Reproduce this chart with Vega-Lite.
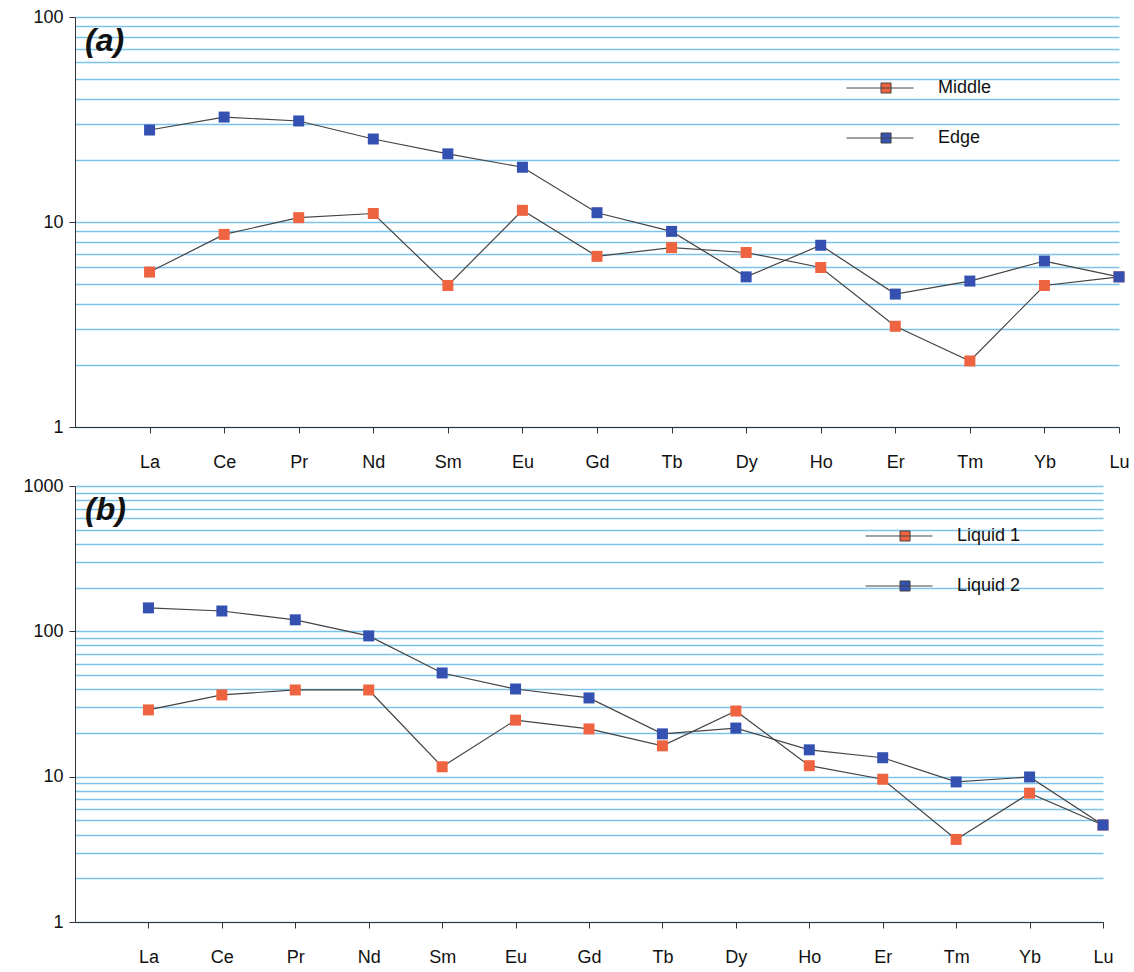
{
  "$schema": "https://vega.github.io/schema/vega-lite/v6.json",
  "background": "white",
  "padding": {"left": 22, "top": 8, "right": 2, "bottom": 5},
  "spacing": 6,
  "config": {
    "view": {"stroke": null},
    "font": "Liberation Sans",
    "axis": {"labelFont": "Liberation Sans", "labelFontSize": 18, "labelColor": "#111", "domainColor": "#333", "tickColor": "#333", "zindex": 1},
    "legend": {"labelFont": "Liberation Sans", "labelFontSize": 18, "labelColor": "#111"}
  },
  "data": {"values": [
    {"panel": "a", "series": "Middle", "element": "La", "value": 5.7},
    {"panel": "a", "series": "Middle", "element": "Ce", "value": 8.7},
    {"panel": "a", "series": "Middle", "element": "Pr", "value": 10.5},
    {"panel": "a", "series": "Middle", "element": "Nd", "value": 11.0},
    {"panel": "a", "series": "Middle", "element": "Sm", "value": 4.9},
    {"panel": "a", "series": "Middle", "element": "Eu", "value": 11.4},
    {"panel": "a", "series": "Middle", "element": "Gd", "value": 6.8},
    {"panel": "a", "series": "Middle", "element": "Tb", "value": 7.5},
    {"panel": "a", "series": "Middle", "element": "Dy", "value": 7.1},
    {"panel": "a", "series": "Middle", "element": "Ho", "value": 6.0},
    {"panel": "a", "series": "Middle", "element": "Er", "value": 3.1},
    {"panel": "a", "series": "Middle", "element": "Tm", "value": 2.1},
    {"panel": "a", "series": "Middle", "element": "Yb", "value": 4.9},
    {"panel": "a", "series": "Middle", "element": "Lu", "value": 5.4},
    {"panel": "a", "series": "Edge", "element": "La", "value": 28.1},
    {"panel": "a", "series": "Edge", "element": "Ce", "value": 32.5},
    {"panel": "a", "series": "Edge", "element": "Pr", "value": 31.1},
    {"panel": "a", "series": "Edge", "element": "Nd", "value": 25.4},
    {"panel": "a", "series": "Edge", "element": "Sm", "value": 21.5},
    {"panel": "a", "series": "Edge", "element": "Eu", "value": 18.5},
    {"panel": "a", "series": "Edge", "element": "Gd", "value": 11.1},
    {"panel": "a", "series": "Edge", "element": "Tb", "value": 9.0},
    {"panel": "a", "series": "Edge", "element": "Dy", "value": 5.4},
    {"panel": "a", "series": "Edge", "element": "Ho", "value": 7.7},
    {"panel": "a", "series": "Edge", "element": "Er", "value": 4.45},
    {"panel": "a", "series": "Edge", "element": "Tm", "value": 5.15},
    {"panel": "a", "series": "Edge", "element": "Yb", "value": 6.45},
    {"panel": "a", "series": "Edge", "element": "Lu", "value": 5.4},
    {"panel": "b", "series": "Liquid 1", "element": "La", "value": 28.8},
    {"panel": "b", "series": "Liquid 1", "element": "Ce", "value": 36.5},
    {"panel": "b", "series": "Liquid 1", "element": "Pr", "value": 39.5},
    {"panel": "b", "series": "Liquid 1", "element": "Nd", "value": 39.5},
    {"panel": "b", "series": "Liquid 1", "element": "Sm", "value": 11.7},
    {"panel": "b", "series": "Liquid 1", "element": "Eu", "value": 24.5},
    {"panel": "b", "series": "Liquid 1", "element": "Gd", "value": 21.3},
    {"panel": "b", "series": "Liquid 1", "element": "Tb", "value": 16.3},
    {"panel": "b", "series": "Liquid 1", "element": "Dy", "value": 28.3},
    {"panel": "b", "series": "Liquid 1", "element": "Ho", "value": 11.9},
    {"panel": "b", "series": "Liquid 1", "element": "Er", "value": 9.6},
    {"panel": "b", "series": "Liquid 1", "element": "Tm", "value": 3.7},
    {"panel": "b", "series": "Liquid 1", "element": "Yb", "value": 7.7},
    {"panel": "b", "series": "Liquid 1", "element": "Lu", "value": 4.65},
    {"panel": "b", "series": "Liquid 2", "element": "La", "value": 145},
    {"panel": "b", "series": "Liquid 2", "element": "Ce", "value": 138},
    {"panel": "b", "series": "Liquid 2", "element": "Pr", "value": 120},
    {"panel": "b", "series": "Liquid 2", "element": "Nd", "value": 93},
    {"panel": "b", "series": "Liquid 2", "element": "Sm", "value": 51.7},
    {"panel": "b", "series": "Liquid 2", "element": "Eu", "value": 40.1},
    {"panel": "b", "series": "Liquid 2", "element": "Gd", "value": 34.8},
    {"panel": "b", "series": "Liquid 2", "element": "Tb", "value": 19.7},
    {"panel": "b", "series": "Liquid 2", "element": "Dy", "value": 21.6},
    {"panel": "b", "series": "Liquid 2", "element": "Ho", "value": 15.3},
    {"panel": "b", "series": "Liquid 2", "element": "Er", "value": 13.5},
    {"panel": "b", "series": "Liquid 2", "element": "Tm", "value": 9.2},
    {"panel": "b", "series": "Liquid 2", "element": "Yb", "value": 9.95},
    {"panel": "b", "series": "Liquid 2", "element": "Lu", "value": 4.65}
  ]},
  "resolve": {"scale": {"color": "independent", "x": "independent", "y": "independent"}, "legend": {"color": "independent"}},
  "vconcat": [
    {
      "width": 1044,
      "height": 410,
      "title": {"text": "(a)", "anchor": "start", "frame": "group", "orient": "top", "offset": -50, "dx": 10, "fontSize": 32, "fontStyle": "italic", "fontWeight": "bold", "font": "Liberation Sans", "color": "#111"},
      "transform": [{"filter": "datum.panel === 'a'"}],
      "encoding": {
        "x": {"field": "element", "type": "ordinal", "scale": {"type": "point", "domain": ["", "La", "Ce", "Pr", "Nd", "Sm", "Eu", "Gd", "Tb", "Dy", "Ho", "Er", "Tm", "Yb", "Lu"], "padding": 0},
          "axis": {"title": null, "labelAngle": 0, "tickSize": 6, "labelPadding": 20, "grid": false, "tickOpacity": {"condition": {"test": "datum.value === ''", "value": 0}, "value": 1}}},
        "y": {"field": "value", "type": "quantitative", "scale": {"type": "log", "domain": [1, 100], "nice": false},
          "axis": {"title": null, "values": [1,2,3,4,5,6,7,8,9,10,20,30,40,50,60,70,80,90,100], "labelExpr": "indexof(['1','10','100','1000'], datum.label) >= 0 ? datum.label : ''", "format": "d", "grid": true, "gridColor": "#7cc3ea", "gridWidth": 1.4, "tickSize": 6, "labelPadding": 6, "minExtent": 45, "maxExtent": 45,
            "tickOpacity": {"condition": {"test": "indexof([1,10,100,1000], datum.value) >= 0", "value": 1}, "value": 0}}}
      },
      "layer": [
        {"mark": {"type": "line", "color": "#444", "strokeWidth": 1.2}, "encoding": {"detail": {"field": "series"}}},
        {"mark": {"type": "point", "shape": "square", "filled": true, "opacity": 1, "size": 121},
          "encoding": {"color": {"field": "series", "type": "nominal", "scale": {"domain": ["Middle", "Edge"], "range": ["#ef6440", "#3451b2"]},
            "legend": {"title": null, "orient": "none", "legendX": 771, "legendY": 37, "symbolType": "M-1,0H1M0.03,-0.15H0.33V0.15H0.03Z", "symbolSize": 4489, "symbolStrokeColor": "#444", "symbolStrokeWidth": 1, "labelOffset": 24, "rowPadding": 7,
              "encode": {"symbols": {"update": {"stroke": {"value": "#444"}, "strokeWidth": {"value": 1}}}}}}}}
      ]
    },
    {
      "width": 1028,
      "height": 436,
      "title": {"text": "(b)", "anchor": "start", "frame": "group", "orient": "top", "offset": -50, "dx": 10, "fontSize": 32, "fontStyle": "italic", "fontWeight": "bold", "font": "Liberation Sans", "color": "#111"},
      "transform": [{"filter": "datum.panel === 'b'"}],
      "encoding": {
        "x": {"field": "element", "type": "ordinal", "scale": {"type": "point", "domain": ["", "La", "Ce", "Pr", "Nd", "Sm", "Eu", "Gd", "Tb", "Dy", "Ho", "Er", "Tm", "Yb", "Lu"], "padding": 0},
          "axis": {"title": null, "labelAngle": 0, "tickSize": 6, "labelPadding": 20, "grid": false, "tickOpacity": {"condition": {"test": "datum.value === ''", "value": 0}, "value": 1}}},
        "y": {"field": "value", "type": "quantitative", "scale": {"type": "log", "domain": [1, 1000], "nice": false},
          "axis": {"title": null, "values": [1,2,3,4,5,6,7,8,9,10,20,30,40,50,60,70,80,90,100,200,300,400,500,600,700,800,900,1000], "labelExpr": "indexof(['1','10','100','1000'], datum.label) >= 0 ? datum.label : ''", "format": "d", "grid": true, "gridColor": "#7cc3ea", "gridWidth": 1.4, "tickSize": 6, "labelPadding": 6, "minExtent": 41, "maxExtent": 41,
            "tickOpacity": {"condition": {"test": "indexof([1,10,100,1000], datum.value) >= 0", "value": 1}, "value": 0}}}
      },
      "layer": [
        {"mark": {"type": "line", "color": "#444", "strokeWidth": 1.2}, "encoding": {"detail": {"field": "series"}}},
        {"mark": {"type": "point", "shape": "square", "filled": true, "opacity": 1, "size": 121},
          "encoding": {"color": {"field": "series", "type": "nominal", "scale": {"domain": ["Liquid 1", "Liquid 2"], "range": ["#ef6440", "#3451b2"]},
            "legend": {"title": null, "orient": "none", "legendX": 790, "legendY": 16, "symbolType": "M-1,0H1M0.03,-0.15H0.33V0.15H0.03Z", "symbolSize": 4489, "symbolStrokeColor": "#444", "symbolStrokeWidth": 1, "labelOffset": 24, "rowPadding": 7,
              "encode": {"symbols": {"update": {"stroke": {"value": "#444"}, "strokeWidth": {"value": 1}}}}}}}}
      ]
    }
  ]
}
